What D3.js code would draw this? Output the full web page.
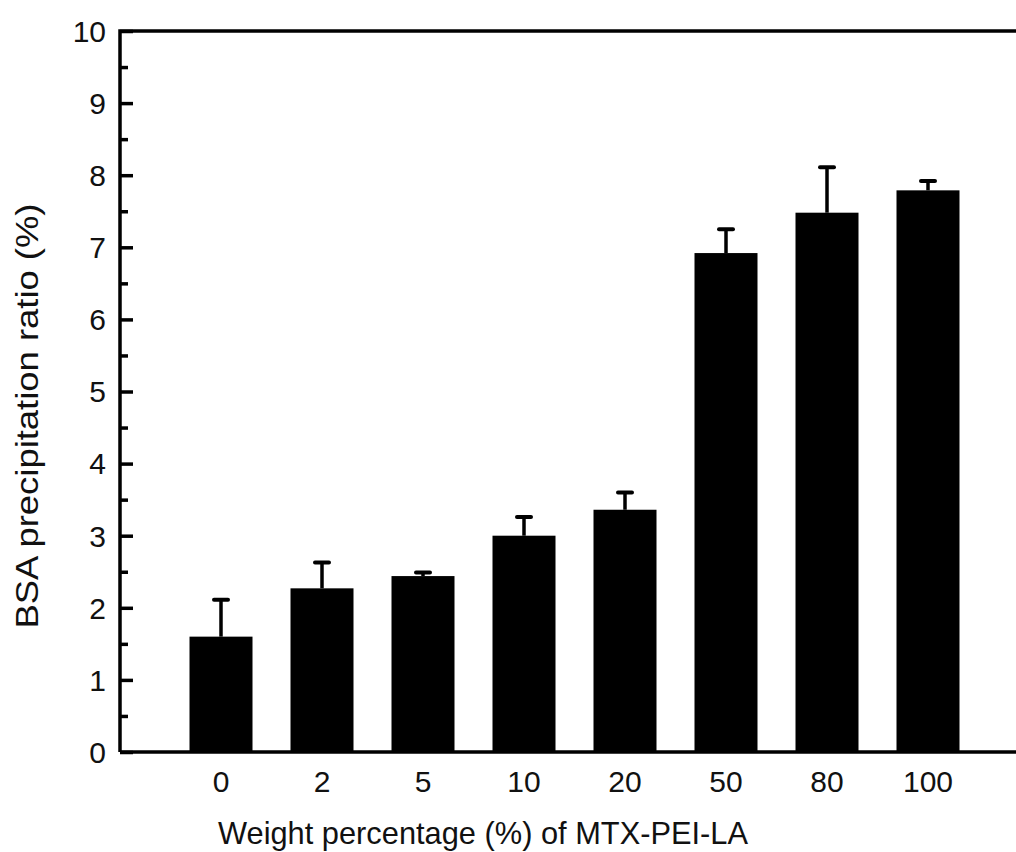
<!DOCTYPE html>
<html><head><meta charset="utf-8">
<script src="https://cdn.jsdelivr.net/npm/d3@7"></script>
<style>html,body{margin:0;padding:0;background:#fff;overflow:hidden}</style>
</head><body>
<script>
const categories = ["0","2","5","10","20","50","80","100"];
const values = [1.60, 2.27, 2.44, 3.00, 3.36, 6.92, 7.48, 7.79];
const errors = [0.51, 0.36, 0.05, 0.26, 0.24, 0.33, 0.63, 0.13];
const yTicks = [0,1,2,3,4,5,6,7,8,9,10];
const yMinorTicks = [0.5,1.5,2.5,3.5,4.5,5.5,6.5,7.5,8.5,9.5];

const W = 1016, H = 852;
const svg = d3.select("body").append("svg").attr("width", W).attr("height", H)
  .style("font-family", "'Liberation Sans', Arial, sans-serif");

const x = d3.scaleLinear().domain([0, 9]).range([120, 1029]);
const y = d3.scaleLinear().domain([0, 10]).range([752, 31]);
const barW = 63;

// bars
svg.selectAll("rect.bar").data(values).join("rect")
  .attr("x", (d,i) => x(i+1) - barW/2)
  .attr("y", d => y(d))
  .attr("width", barW)
  .attr("height", d => y(0) - y(d))
  .attr("fill", "#000");

// error bars
svg.selectAll("line.err").data(values).join("line")
  .attr("x1", (d,i) => x(i+1)).attr("x2", (d,i) => x(i+1))
  .attr("y1", d => y(d)).attr("y2", (d,i) => y(d + errors[i]))
  .attr("stroke", "#000").attr("stroke-width", 3.5);
svg.selectAll("line.cap").data(values).join("line")
  .attr("x1", (d,i) => x(i+1) - 7).attr("x2", (d,i) => x(i+1) + 7)
  .attr("y1", (d,i) => y(d + errors[i])).attr("y2", (d,i) => y(d + errors[i]))
  .attr("stroke", "#000").attr("stroke-width", 4).attr("stroke-linecap", "round");

// frame
const frame = svg.append("g").attr("fill", "none").attr("stroke", "#000").attr("stroke-width", 3.5);
frame.append("path").attr("d", `M${x(0)},${y(0)}V${y(10)}H${x(9)}`);
frame.append("path").attr("d", `M${x(0)},${y(0)}H${x(9)}`);

// y axis ticks (inward)
const yAxis = d3.axisRight(y).tickValues(yTicks).tickSize(13).tickFormat("");
const gy = svg.append("g").attr("transform", `translate(${x(0)},0)`).call(yAxis);
gy.select(".domain").remove();
gy.selectAll(".tick line").attr("stroke-width", 3.5);
const yMinor = d3.axisRight(y).tickValues(yMinorTicks).tickSize(8).tickFormat("");
const gym = svg.append("g").attr("transform", `translate(${x(0)},0)`).call(yMinor);
gym.select(".domain").remove();
gym.selectAll(".tick line").attr("stroke-width", 3.5);

// y tick labels
svg.selectAll("text.ylab").data(yTicks).join("text")
  .attr("x", 106).attr("y", d => y(d))
  .attr("dy", "0.36em").attr("text-anchor", "end")
  .attr("font-size", 30).attr("fill", "#111")
  .text(d => d);

// x tick labels
svg.selectAll("text.xlab").data(categories).join("text")
  .attr("x", (d,i) => x(i+1)).attr("y", 792)
  .attr("text-anchor", "middle")
  .attr("font-size", 30).attr("fill", "#111")
  .text(d => d);

// axis titles
svg.append("text").attr("x", 483).attr("y", 844)
  .attr("text-anchor", "middle").attr("font-size", 32).attr("fill", "#111")
  .attr("textLength", 530).attr("lengthAdjust", "spacingAndGlyphs")
  .text("Weight percentage (%) of MTX-PEI-LA");
svg.append("text").attr("transform", "translate(38,416) rotate(-90)")
  .attr("text-anchor", "middle").attr("font-size", 31).attr("fill", "#111")
  .attr("textLength", 425).attr("lengthAdjust", "spacingAndGlyphs")
  .text("BSA precipitation ratio (%)");
</script>
</body></html>
